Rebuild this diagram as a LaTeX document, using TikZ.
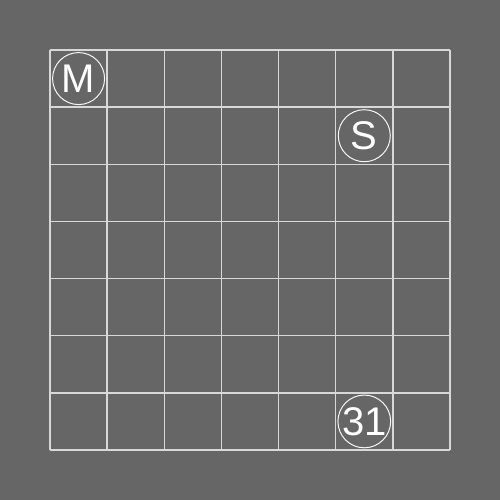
\documentclass[tikz,border=0pt]{standalone}
\usepackage{fontspec}
\setmainfont{Liberation Sans}
\definecolor{bg}{HTML}{666666}
\definecolor{gridc}{HTML}{D8D8D8}
\begin{document}
\begin{tikzpicture}[x=1pt,y=-1pt,
  gridline/.style={draw=gridc,line width=1.3pt},
  token/.style={circle,draw=white!92!gray,line width=1pt,minimum size=52pt,inner sep=0pt,text=white,font=\fontsize{40}{40}\selectfont}]
\fill[bg] (0,0) rectangle (500,500);
\useasboundingbox (0,0) rectangle (500,500);
\foreach \i in {0,...,7}{
  \draw[gridline] ({50+\i*400/7},50) -- ({50+\i*400/7},450);
  \draw[gridline] (50,{50+\i*400/7}) -- (450,{50+\i*400/7});
}
\node[token] (m) at ({50+0.5*400/7},{50+0.5*400/7}) {M};
\node[token] (s) at ({50+5.5*400/7},{50+1.5*400/7}) {S};
\node[token] (n) at ({50+5.5*400/7},{50+6.5*400/7}) {31};
\end{tikzpicture}
\end{document}
